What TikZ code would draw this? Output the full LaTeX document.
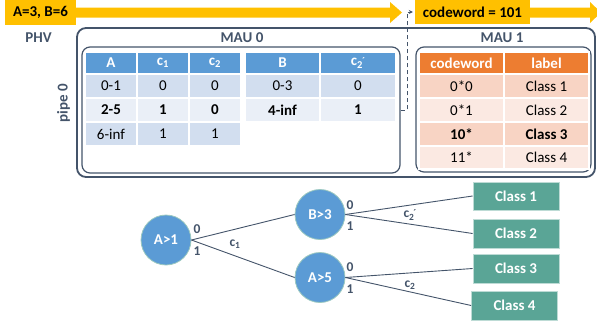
\documentclass[tikz,border=0pt]{standalone}
\usepackage{fontspec}
\setmainfont{Carlito}
\usetikzlibrary{arrows.meta}
\definecolor{ylw}{HTML}{FFC000}
\definecolor{bhead}{HTML}{5B9BD5}
\definecolor{bdark}{HTML}{D2DEEF}
\definecolor{blight}{HTML}{EAEFF7}
\definecolor{ohead}{HTML}{ED7D31}
\definecolor{odark}{HTML}{F8D4C4}
\definecolor{olight}{HTML}{FBE9E2}
\definecolor{tealc}{HTML}{5AA596}
\definecolor{slate}{HTML}{44546A}
\newcommand\F{\fontsize{15}{18}\selectfont}
\newcommand\tc[7]{\node[cell, fill=#6, minimum width={(#4-#2)*1pt}, minimum height={(#5-#3)*1pt}] (#1) at ({(#2+#4)/2},{(#3+#5)/2}) {#7};}
\newcommand\prm{c\textsubscript{2}\kern-1pt\raisebox{1pt}{\fontsize{10}{10}\selectfont ´}}
\begin{document}
\begin{tikzpicture}[x=1pt,y=-1pt, font=\F,
  cell/.style={draw=white, line width=1.5pt, inner sep=0pt, text=black},
  title/.style={text=slate, font=\F\bfseries, inner sep=0pt},
  lbl/.style={text=slate, font=\fontsize{13.5}{15}\selectfont\bfseries, inner sep=0pt},
  circ/.style={circle, fill=bhead, draw=tealc!60, line width=0.8pt, minimum size=50pt, inner sep=0pt, text=white, font=\F\bfseries},
  cls/.style={fill=tealc, draw=tealc!40, line width=0.8pt, text=white, font=\F\bfseries, minimum width=86pt, minimum height=28pt, inner sep=0pt},
  conn/.style={draw=slate, line width=0.9pt},
  ybox/.style={fill=ylw, inner sep=0pt, font=\F\bfseries, text=black}]
\useasboundingbox (0,0) rectangle (597,327);

% yellow banner
\node[ybox, minimum width=71pt, minimum height=25pt] (in) at (40.5,12.5) {A=3, B=6};
\fill[ylw] (in.east |- 0,7.5) -- (390,7.5) -- (390,2) -- (402,12.5) -- (390,23) -- (390,17.5) -- (in.east |- 0,17.5) -- cycle;
\node[ybox, minimum width=115pt, minimum height=24pt] (cw) at (472.5,12) {codeword = 101};
\fill[ylw] (cw.east |- 0,7.5) -- (590,7.5) -- (590,2) -- (601,12.5) -- (590,23) -- (590,17.5) -- (cw.east |- 0,17.5) -- cycle;

% boxes
\node[draw=slate, line width=1.8pt, rounded corners=9pt, minimum width=518pt, minimum height=149pt, inner sep=0pt] (pipe) at (336,102.5) {};
\node[draw=slate, line width=1.2pt, rounded corners=8pt, minimum width=318pt, minimum height=126pt, inner sep=0pt] (mau0) at (241,110) {};
\node[draw=slate, line width=1.2pt, rounded corners=8pt, minimum width=175pt, minimum height=125pt, inner sep=0pt] (mau1) at (503.5,109.5) {};

\node[title] (phv) at (38.5,37.5) {PHV};
\node[title] (m0) at (242,37.5) {MAU 0};
\node[title] (m1) at (502,38) {MAU 1};
\node[title, rotate=90] (p0) at (63.5,103) {pipe 0};

% dashed connector
\draw[slate, line width=1pt, dash pattern=on 4pt off 3pt, -{Stealth[length=4pt,width=4pt]}, shorten >=2pt]
  (mau0.east |- 0,110) -- (407,110) -- (407,12) -- (cw.west |- 0,12);

% table A
\tc{a00}{85}{52}{137}{74}{bhead}{\textcolor{white}{\bfseries A}}
\tc{a01}{137}{52}{189}{74}{bhead}{\textcolor{white}{\bfseries c\textsubscript{1}}}
\tc{a02}{189}{52}{241}{74}{bhead}{\textcolor{white}{\bfseries c\textsubscript{2}}}
\tc{a10}{85}{74}{137}{98}{bdark}{0-1}
\tc{a11}{137}{74}{189}{98}{bdark}{0}
\tc{a12}{189}{74}{241}{98}{bdark}{0}
\tc{a20}{85}{98}{137}{122}{blight}{\bfseries 2-5}
\tc{a21}{137}{98}{189}{122}{blight}{\bfseries 1}
\tc{a22}{189}{98}{241}{122}{blight}{\bfseries 0}
\tc{a30}{85}{122}{137}{146}{bdark}{6-inf}
\tc{a31}{137}{122}{189}{146}{bdark}{1}
\tc{a32}{189}{122}{241}{146}{bdark}{1}

% table B
\tc{b00}{245}{52}{320}{74}{bhead}{\textcolor{white}{\bfseries B}}
\tc{b01}{320}{52}{396}{74}{bhead}{\textcolor{white}{\bfseries\prm}}
\tc{b10}{245}{74}{320}{98}{bdark}{0-3}
\tc{b11}{320}{74}{396}{98}{bdark}{0}
\tc{b20}{245}{98}{320}{122}{blight}{\bfseries 4-inf}
\tc{b21}{320}{98}{396}{122}{blight}{\bfseries 1}

% table C
\tc{c00}{419}{52}{504}{74}{ohead}{\textcolor{white}{\bfseries codeword}}
\tc{c01}{504}{52}{589}{74}{ohead}{\textcolor{white}{\bfseries label}}
\tc{c10}{419}{74}{504}{98}{odark}{0*0}
\tc{c11}{504}{74}{589}{98}{odark}{Class 1}
\tc{c20}{419}{98}{504}{122}{olight}{0*1}
\tc{c21}{504}{98}{589}{122}{olight}{Class 2}
\tc{c30}{419}{122}{504}{146}{odark}{\bfseries 10*}
\tc{c31}{504}{122}{589}{146}{odark}{\bfseries Class 3}
\tc{c40}{419}{146}{504}{169}{olight}{11*}
\tc{c41}{504}{146}{589}{169}{olight}{Class 4}

% tree
\node[circ] (r) at (166,240) {A>1};
\node[circ] (b3) at (320,214.5) {B>3};
\node[circ] (a5) at (320,277.5) {A>5};
\node[cls] (k1) at (516,196) {Class 1};
\node[cls, minimum height=29pt] (k2) at (516,233.5) {Class 2};
\node[cls, minimum height=29pt] (k3) at (516,268.5) {Class 3};
\node[cls, minimum height=29pt] (k4) at (514.5,305.5) {Class 4};

\draw[conn] (r.east) -- (b3.west);
\draw[conn] (r.east) -- (a5.west);
\draw[conn] (b3.east) -- (k1.west);
\draw[conn] (b3.east) -- (k2.west);
\draw[conn] (a5.east) -- (k3.west);
\draw[conn] (a5.east) -- (k4.west);

\node[lbl] (l1) at (197,229) {0};
\node[lbl] (l2) at (197,251) {1};
\node[lbl] (l3) at (350,205) {0};
\node[lbl] (l4) at (350,226) {1};
\node[lbl] (l5) at (350,267) {0};
\node[lbl] (l6) at (350,289) {1};
\node[lbl] (lc1) at (235,244) {c\textsubscript{1}};
\node[lbl] (lc2p) at (410,215) {\prm};
\node[lbl] (lc2) at (410,285) {c\textsubscript{2}};
\end{tikzpicture}
\end{document}
